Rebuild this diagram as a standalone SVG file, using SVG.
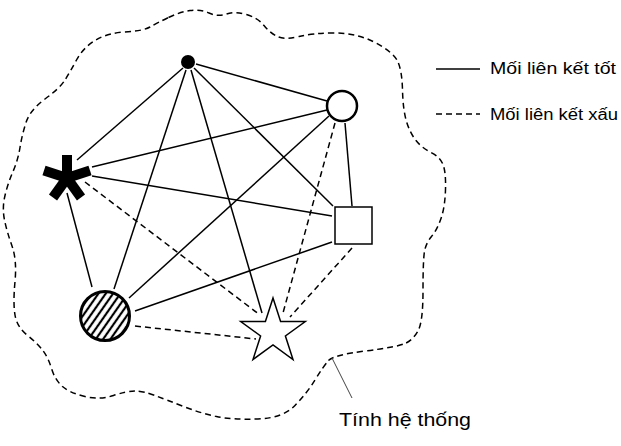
<svg xmlns="http://www.w3.org/2000/svg" width="621" height="446" viewBox="0 0 621 446">
<style>
.c{stroke:#000;stroke-width:1.5;fill:none}
.d{stroke:#000;stroke-width:1.5;fill:none;stroke-dasharray:6 4}
.t{font-family:"Liberation Sans","DejaVu Sans",sans-serif;fill:#000}
</style>
<defs>
<pattern id="hatch" width="6" height="6" patternUnits="userSpaceOnUse" patternTransform="rotate(35)">
<line x1="3" y1="-1" x2="3" y2="7" stroke="#000" stroke-width="2.2"/>
</pattern>
</defs>
<rect width="621" height="446" fill="#fff"/>
<g id="boundary">
<path class="d" d="M168.5,17.5 Q180,12 190,10.5 Q200,9 209,13 Q218,17 226.5,14 Q235,11 246.5,14.5 Q258,18 264,25.5 Q270,33 277.5,36.5 Q285,40 299,36.5 Q313,33 335,33 Q357,33 375,42.5 Q393,52 397.5,61 Q402,70 402.5,90 Q403,110 406.5,121.5 Q410,133 416,140.5 Q422,148 431,152.5 Q440,157 443,164.5 Q446,172 445.5,189.5 Q445,207 441,218.5 Q437,230 431.5,236.5 Q426,243 424.5,251.5 Q423,260 423,291 Q423,322 418,331 Q413,340 405,343.5 Q397,347 365,351 Q333,355 328,361 Q323,367 315,380 Q307,393 295,405.5 Q283,418 258,419 Q233,420 216.5,416.5 Q200,413 183.5,406.5 Q167,400 155,395.5 Q143,391 135,391 Q127,391 113.5,395.5 Q100,400 85,396.5 Q70,393 62.5,386.5 Q55,380 51.5,368.5 Q48,357 42.5,350 Q37,343 27,335 Q17,327 15,315 Q13,303 15,281.5 Q17,260 12,246 Q7,232 4.5,220 Q2,208 5,195.5 Q8,183 13,171.5 Q18,160 20,147.5 Q22,135 26,122.5 Q30,110 45,99 Q60,88 65,80 Q70,72 76.5,60 Q83,48 95,40.5 Q107,33 125,32 Q143,31 150,27 Q157,23 168.5,17.5 Z"/>
</g>
<g id="connectors">
<line class="c" x1="183" y1="68" x2="77" y2="160"/>
<line class="c" x1="196" y1="64" x2="327" y2="101"/>
<line class="c" x1="186" y1="70" x2="114" y2="289"/>
<line class="c" x1="191" y1="70" x2="262" y2="313"/>
<line class="c" x1="194" y1="68" x2="333" y2="206"/>
<line class="c" x1="92" y1="167" x2="327" y2="110"/>
<line class="c" x1="92" y1="176" x2="332" y2="216"/>
<line class="c" x1="67" y1="193" x2="92" y2="287"/>
<line class="d" x1="85" y1="182" x2="260" y2="315"/>
<line class="c" x1="329" y1="116" x2="129" y2="298"/>
<line class="c" x1="345" y1="123" x2="352" y2="206"/>
<line class="d" x1="335" y1="123" x2="283" y2="313"/>
<line class="c" x1="332" y1="242" x2="135" y2="311"/>
<line class="d" x1="352" y1="248" x2="290" y2="317"/>
<line class="d" x1="135" y1="326" x2="256" y2="339"/>
<line x1="332" y1="358" x2="352" y2="398" stroke="#444" stroke-width="1"/>
</g>
<g id="dot"><circle cx="188" cy="62" r="7" fill="#000"/></g>
<g id="circle"><circle cx="342" cy="106" r="15" fill="#fff" stroke="#000" stroke-width="2.5"/></g>
<g id="asterisk" stroke="#000" stroke-width="10" stroke-linecap="butt">
<line x1="67" y1="178" x2="67" y2="155"/>
<line x1="67" y1="178" x2="90" y2="170.5"/>
<line x1="67" y1="178" x2="44" y2="170.5"/>
<line x1="67" y1="178" x2="81" y2="197.5"/>
<line x1="67" y1="178" x2="53" y2="197.5"/>
</g>
<g id="square"><rect x="335" y="207" width="37" height="37" fill="#fff" stroke="#000" stroke-width="1.5"/></g>
<g id="hatched"><circle cx="105" cy="316" r="24.5" fill="url(#hatch)" stroke="#000" stroke-width="3"/></g>
<g id="star"><polygon points="273,298 280.6,321.5 305.3,321.5 285.4,336 293,359.5 273,345 253,359.5 260.6,336 240.7,321.5 265.4,321.5" fill="#fff" stroke="#000" stroke-width="1.5" stroke-linejoin="miter"/></g>
<g id="legend">
<line class="c" x1="436" y1="69" x2="480" y2="69"/>
<line class="d" x1="436" y1="114" x2="480" y2="114"/>
<text class="t" x="490" y="74" font-size="16" textLength="126" lengthAdjust="spacingAndGlyphs">Mối liên kết tốt</text>
<text class="t" x="490" y="120" font-size="16" textLength="128" lengthAdjust="spacingAndGlyphs">Mối liên kết xấu</text>
</g>
<g id="label"><text class="t" x="339" y="426" font-size="18" textLength="132" lengthAdjust="spacingAndGlyphs">Tính hệ thống</text></g>
</svg>
